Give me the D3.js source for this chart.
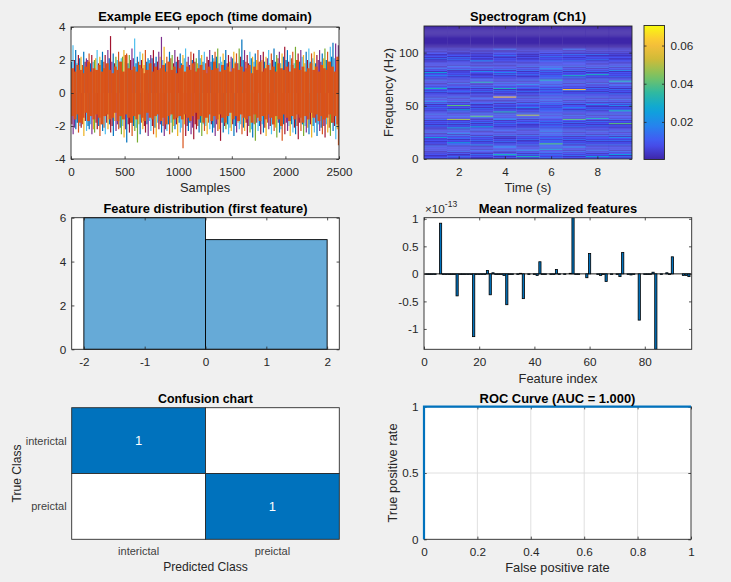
<!DOCTYPE html>
<html><head><meta charset="utf-8">
<script src="https://cdn.jsdelivr.net/npm/d3@7"></script>
<style>
body{margin:0;background:#f0f0f0;}
svg{display:block;}
</style></head><body>
<svg id="fig" width="731" height="582"></svg>
<script>
// ---------------- DATA ----------------
// EEG epoch (16 channels, 2500 samples) summarised per 25-sample bin (100 bins)
const eegBinSize = 25;
const eegHi = [2.9,2.6,2.3,2.2,2.5,2.1,2.4,2.3,2.0,2.6, 2.2,2.5,2.3,2.6,3.45,2.4,2.2,2.5,2.1,2.6,
  2.4,2.3,2.7,3.3,2.2,2.5,2.4,2.6,2.1,2.3, 2.6,2.2,2.5,3.4,2.8,2.2,2.5,2.3,2.6,2.2,
  2.4,2.3,2.7,2.2,2.5,2.4,2.1,2.6,2.3,2.5, 2.2,2.6,2.3,2.5,2.7,2.2,2.4,2.6,2.3,2.2,
  2.5,2.4,2.7,3.25,2.6,2.3,2.5,2.2,2.4,2.6, 2.3,2.5,2.2,2.6,2.4,2.7,2.3,2.5,2.4,2.8,
  2.6,2.3,2.5,2.8,2.4,2.6,2.3,2.5,2.7,2.4, 2.5,2.3,2.6,2.4,2.7,2.5,2.8,3.05,3.0,2.9];
const eegHiCh = "5062031645"+"2063604152"+"1435052103"+"6033210436"+"0253164025"+"6301452063"+"2140365201"+"3625104326"+"0514632051"+"2630415033";
const eegLo = [-2.5,-2.2,-2.4,-2.1,-2.6,-2.3,-2.2,-2.5,-2.4,-2.2, -2.6,-2.3,-2.5,-2.2,-2.4,-2.6,-2.3,-2.2,-2.5,-2.7,
  -3.0,-2.4,-2.6,-2.3,-3.0,-2.5,-2.2,-2.4,-2.6,-2.3, -2.5,-2.7,-2.2,-2.4,-2.6,-2.3,-2.5,-2.4,-2.2,-2.6,
  -2.4,-3.35,-2.6,-2.3,-2.5,-2.8,-2.2,-2.4,-2.6,-2.3, -2.5,-2.2,-2.4,-2.6,-2.3,-2.9,-2.4,-2.2,-2.5,-2.3,
  -2.6,-2.4,-2.2,-2.5,-2.3,-2.6,-2.4,-2.7,-2.9,-2.3, -2.5,-2.4,-2.6,-2.2,-2.5,-2.3,-2.7,-2.4,-2.9,-2.5,
  -2.3,-2.6,-2.4,-2.5,-2.8,-2.3,-2.6,-2.4,-2.5,-2.7, -2.4,-2.6,-2.3,-2.5,-2.7,-2.4,-2.6,-2.3,-2.8,-3.17];
const eegLoCh = "3016250346"+"1052603142"+"0614402635"+"1260351402"+"5160366041"+"2503160452"+"0351264045"+"6023514016"+"3250614302"+"5031624051";
const eegMidHi = [1.9,2.0,1.8,2.1,1.7,1.9,2.0,1.8,1.9,2.1, 1.8,2.0,1.9,1.7,2.1,1.9,1.8,2.0,1.9,2.2,
  1.9,1.8,2.0,2.1,1.8,1.9,2.0,1.7,1.9,2.0, 2.1,1.8,1.9,2.2,2.0,1.8,1.9,2.1,1.8,1.9,
  2.0,1.8,2.1,1.9,1.7,2.0,1.9,1.8,2.1,1.9, 1.8,2.0,1.9,2.1,2.2,1.8,1.9,2.0,1.8,1.9,
  2.1,1.9,1.8,2.2,2.0,1.9,1.8,2.1,1.9,2.0, 1.8,2.0,1.9,2.1,1.8,2.0,1.9,2.1,1.8,2.2,
  2.0,1.9,2.1,1.8,2.0,1.9,2.2,1.8,2.0,1.9, 2.1,1.8,2.0,1.9,2.1,2.0,1.9,2.2,2.1,2.0];
const eegMidHiCh = "0650163052"+"6015036504"+"5063016205"+"0362505160"+"6051306250"+"1605035062"+"0536016052"+"6203560150"+"0615305260"+"5036206051";
const eegMidLo = [-1.9,-2.1,-1.8,-2.0,-1.9,-1.7,-2.0,-1.9,-2.2,-1.8, -2.0,-1.9,-2.1,-1.8,-1.9,-2.0,-1.7,-1.9,-2.1,-2.0,
  -2.2,-1.9,-1.8,-2.0,-2.1,-1.9,-1.8,-2.0,-1.9,-1.7, -2.0,-2.1,-1.8,-1.9,-2.0,-2.2,-1.9,-1.8,-2.0,-1.9,
  -1.8,-2.1,-1.9,-2.0,-1.8,-2.1,-1.9,-2.0,-1.8,-1.9, -2.0,-1.8,-1.9,-2.1,-1.9,-2.2,-1.8,-2.0,-1.9,-2.1,
  -1.9,-2.0,-1.8,-1.9,-2.1,-1.8,-2.0,-2.2,-1.9,-1.8, -2.0,-1.9,-2.1,-1.8,-2.0,-1.9,-2.1,-1.8,-2.2,-1.9,
  -1.8,-2.0,-1.9,-2.1,-2.0,-1.8,-1.9,-2.0,-2.1,-1.9, -2.0,-1.8,-1.9,-2.1,-2.0,-1.9,-2.1,-1.8,-2.0,-2.2];
const eegMidLoCh = "6305160526"+"0516062305"+"3600521605"+"6053160526"+"0526036105"+"5160320605"+"6025063516"+"0561602350"+"3506160526"+"0650351062";
const eegOrangeHi = [1.5,1.3,1.7,1.4,1.2,1.6,1.9,1.3,1.5,1.4, 1.7,1.3,1.5,1.8,1.4,1.2,1.6,1.4,1.9,1.3,
  2.3,1.5,1.4,1.6,1.3,1.7,1.5,1.2,1.4,1.8, 1.3,1.6,1.4,1.5,1.7,1.3,1.9,1.4,1.6,1.2,
  1.5,1.7,1.3,1.6,1.4,1.8,1.3,1.5,1.7,1.4, 1.2,1.6,1.4,1.9,1.5,1.3,1.7,1.4,1.6,1.3,
  1.5,1.8,1.4,1.6,1.3,1.5,1.7,1.2,1.6,1.4, 1.9,1.3,1.5,1.7,1.4,1.6,1.3,1.8,1.5,1.4,
  1.6,1.3,1.7,1.5,2.0,1.4,1.6,1.3,1.5,1.8, 1.4,1.6,1.3,1.7,1.5,1.4,1.9,1.6,1.3,2.2];
const eegOrangeLo = [-1.4,-1.6,-1.3,-1.8,-1.5,-1.2,-1.7,-1.4,-1.6,-1.3, -1.5,-1.9,-1.4,-1.3,-1.6,-1.5,-1.2,-1.7,-1.4,-1.6,
  -1.3,-1.5,-1.8,-1.4,-1.6,-1.3,-1.5,-1.7,-1.2,-1.5, -1.6,-1.4,-1.3,-1.7,-1.5,-1.9,-1.4,-1.3,-1.6,-1.5,
  -1.4,-1.6,-1.3,-1.5,-1.7,-1.4,-1.2,-1.6,-1.4,-1.8, -1.5,-1.3,-1.7,-1.4,-1.6,-1.3,-1.5,-1.8,-1.4,-1.2,
  -1.6,-1.4,-1.7,-1.3,-1.5,-1.6,-1.4,-1.8,-1.3,-1.5, -1.7,-1.4,-1.6,-1.3,-1.5,-1.9,-1.4,-1.6,-2.0,-1.3,
  -1.5,-1.7,-1.4,-1.6,-1.3,-1.5,-1.8,-1.4,-1.6,-1.2, -1.5,-1.3,-1.7,-1.4,-1.6,-1.5,-1.3,-1.8,-1.4,-1.9];
const eegXTicks = [0,500,1000,1500,2000,2500];
const eegYTicks = [-4,-2,0,2,4];

// Spectrogram (Ch1): 9 time bins (1..9 s), 1-Hz rows from 0 Hz upward, coded as power levels
const specTimes = [1,2,3,4,5,6,7,8,9];
const specLevels = {"0":0.0004,"1":0.003,"2":0.006,"3":0.009,"4":0.013,"5":0.018,"6":0.024,"7":0.031,"8":0.04,"9":0.048,"a":0.055,"b":0.062};
const specCols = [
 "2321322132"+"3241231322"+"6232142312"+"2413231423"+"3242313242"+"3142532413"+"2314237423"+"2132413253"+"2613242132"+"3121413213"+"21211",
 "3242131423"+"2314362314"+"3241532416"+"2314231923"+"4231426132"+"8231423142"+"3124321432"+"2413223142"+"3221423413"+"2314241321"+"12111",
 "2132412341"+"3215231423"+"2413321432"+"6231423124"+"8324132413"+"2143213421"+"3214231423"+"1272341321"+"2351324213"+"1252131221"+"21121",
 "2314731242"+"3542314231"+"2142313423"+"1324231542"+"3241723142"+"23142132b3"+"2132417324"+"3241322314"+"2531423213"+"2132312423"+"21141",
 "3272413253"+"2314232142"+"3241323142"+"2213423142"+"3924132153"+"2341323141"+"2314213423"+"5231423124"+"2314231423"+"1232131212"+"21211",
 "3423424326"+"2434843424"+"3243425342"+"4324243234"+"3242343423"+"2434243242"+"3423424234"+"2434724342"+"3242453423"+"2342324231"+"32211",
 "2314232413"+"2531423142"+"3142314231"+"4231423823"+"2413241353"+"3142314232"+"42314b2323"+"3142314273"+"2314231423"+"3242313241"+"22141",
 "3262313242"+"2314231423"+"3241324132"+"2413241372"+"3142314231"+"2531423142"+"3241324132"+"2413241327"+"3142314231"+"2314232141"+"21211",
 "3241632413"+"2314231423"+"5142314231"+"2318231423"+"3142374231"+"5241324132"+"2413241324"+"3147231423"+"2315231423"+"1232132121"+"21211"
];
const specFreqMax = 125;
const specXTicks = [2,4,6,8];
const specYTicks = [0,50,100];
const cbarRange = [0.0003, 0.0705];
const cbarTicks = [0.02,0.04,0.06];

// Feature distribution (first feature) histogram
const histEdges = [-2,0,2];
const histCounts = [6,5];
const histXTicks = [-2,-1,0,1,2];
const histYTicks = [0,2,4,6];

// Mean normalized features (x 1e-13), features 1..96
const meanFeat = [-0.01,-0.01,-0.01,-0.01,0.0,0.92,-0.01,-0.01,-0.01,-0.01,-0.01,-0.40,
  -0.01,-0.01,-0.01,-0.01,-0.01,-1.14,-0.01,-0.01,-0.01,-0.01,0.06,-0.38,
  0.02,-0.01,-0.01,-0.01,-0.03,-0.56,-0.01,-0.01,0.0,-0.01,0.01,-0.45,
  0.0,-0.01,0.0,-0.01,-0.03,0.22,-0.01,-0.01,0.0,-0.01,-0.01,0.08,
  -0.01,0.0,-0.01,0.0,0.01,1.02,-0.01,-0.01,0.0,0.0,-0.07,0.37,
  0.0,0.0,-0.01,-0.03,-0.01,-0.14,0.0,-0.01,0.0,-0.01,-0.05,0.39,
  0.0,-0.01,-0.02,-0.01,0.0,-0.84,0.0,-0.01,-0.01,-0.01,0.03,-1.37,
  0.0,-0.01,0.0,0.02,-0.01,0.31,0.0,0.0,0.0,-0.03,-0.03,-0.05];
const meanXTicks = [0,20,40,60,80];
const meanYTicks = [-1,-0.5,0,0.5,1];

// Confusion chart
const cmClasses = ["interictal","preictal"];
const cmCounts = [[1,0],[0,1]];

// ROC curve
const rocFPR = [0,0,1];
const rocTPR = [0,1,1];
const rocXTicks = [0,0.2,0.4,0.6,0.8,1];
const rocYTicks = [0,0.5,1];

// ---------------- DRAWING ----------------
const FONT = '"Liberation Sans", Arial, Helvetica, sans-serif';
const TXT = '#262626';
const FT = 11.7, FL = 12.9;
const mColors = ['#0072BD','#D95319','#EDB120','#7E2F8E','#77AC30','#4DBEEE','#A2142F'];
const svg = d3.select('#fig').style('font-family', FONT);
svg.append('rect').attr('width',731).attr('height',582).attr('fill','#f0f0f0');
const fmt = d => String(d);

function styleAxis(sel, fs) {
  sel.select('.domain').remove();
  sel.selectAll('.tick line').attr('stroke', TXT).attr('stroke-width', 0.8);
  sel.selectAll('.tick text').attr('fill', TXT).style('font-size', fs + 'px').style('font-family', FONT);
}
function drawAxes(g, X, Y, o) {
  const [xa, xb] = X.range(), [yb, ya] = Y.range();
  const tl = o.tl != null ? o.tl : 2.7;
  if (o.xt) {
    g.append('g').attr('transform', `translate(0,${yb})`)
      .call(d3.axisBottom(X).tickValues(o.xt).tickSize(-tl).tickPadding(o.xpad || 8.5).tickFormat(o.xf || fmt)).call(styleAxis, FT);
    g.append('g').attr('transform', `translate(0,${ya})`)
      .call(d3.axisTop(X).tickValues(o.xt).tickSize(-tl).tickFormat('')).call(styleAxis, FT);
  }
  if (o.yt) {
    g.append('g').attr('transform', `translate(${xa},0)`)
      .call(d3.axisLeft(Y).tickValues(o.yt).tickSize(-tl).tickPadding(5.5).tickFormat(o.yf || fmt)).call(styleAxis, FT);
    if (!o.noRight) g.append('g').attr('transform', `translate(${xb},0)`)
      .call(d3.axisRight(Y).tickValues(o.yt).tickSize(-tl).tickFormat('')).call(styleAxis, FT);
  }
  g.append('rect').attr('x', xa).attr('y', ya).attr('width', xb - xa).attr('height', yb - ya)
    .attr('fill', 'none').attr('stroke', TXT).attr('stroke-width', 0.9);
}
function title(txt, x, y, fs) {
  svg.append('text').attr('x', x).attr('y', y).attr('text-anchor', 'middle').attr('font-weight', 'bold')
    .attr('fill', '#000').style('font-size', (fs || FL) + 'px').text(txt);
}
function xlabel(txt, x, y, fs) {
  svg.append('text').attr('x', x).attr('y', y).attr('text-anchor', 'middle').attr('fill', TXT)
    .style('font-size', (fs || FL) + 'px').text(txt);
}
function ylabel(txt, x, y, fs) {
  svg.append('text').attr('transform', `translate(${x},${y}) rotate(-90)`).attr('text-anchor', 'middle').attr('fill', TXT)
    .style('font-size', (fs || FL) + 'px').text(txt);
}
function plotBg(X, Y) {
  const [xa, xb] = X.range(), [yb, ya] = Y.range();
  svg.append('rect').attr('x', xa).attr('y', ya).attr('width', xb - xa).attr('height', yb - ya).attr('fill', '#fff');
}
function clipFor(id, X, Y) {
  const [xa, xb] = X.range(), [yb, ya] = Y.range();
  svg.append('clipPath').attr('id', id).append('rect').attr('x', xa).attr('y', ya).attr('width', xb - xa).attr('height', yb - ya);
  return 'url(#' + id + ')';
}

// ---- 1. EEG epoch ----
{
  const X = d3.scaleLinear().domain([0, 2500]).range([71, 339]);
  const Y = d3.scaleLinear().domain([-4, 4]).range([159, 27]);
  plotBg(X, Y);
  const g = svg.append('g').attr('clip-path', clipFor('c1', X, Y));
  const bins = d3.range(eegHi.length).map(i => ({
    s: i * eegBinSize, hi: eegHi[i], hc: +eegHiCh[i], lo: eegLo[i], lc: +eegLoCh[i],
    mh: eegMidHi[i], mhc: +eegMidHiCh[i], ml: eegMidLo[i], mlc: +eegMidLoCh[i],
    oh: eegOrangeHi[i], ol: eegOrangeLo[i]
  }));
  const bw = X(eegBinSize) - X(0);
  const seg = (sel, fx, y0, y1, col, w) => sel.append('g').selectAll('line').data(bins).join('line')
    .attr('x1', d => X(d.s) + fx * bw).attr('x2', d => X(d.s) + fx * bw)
    .attr('y1', d => Y(y0(d))).attr('y2', d => Y(y1(d)))
    .attr('stroke', d => mColors[col(d)]).attr('stroke-width', w);
  seg(g, 0.25, d => 0, d => d.mh, d => d.mhc, 1.3);
  seg(g, 0.75, d => 0, d => d.hi, d => d.hc, 1.2);
  seg(g, 0.35, d => 0, d => d.ml, d => d.mlc, 1.3);
  seg(g, 0.8, d => 0, d => d.lo, d => d.lc, 1.2);
  g.append('g').selectAll('rect').data(bins).join('rect')
    .attr('x', d => X(d.s)).attr('width', bw + 0.15)
    .attr('y', d => Y(d.oh)).attr('height', d => Y(d.ol) - Y(d.oh))
    .attr('fill', mColors[1]);
  drawAxes(svg.append('g'), X, Y, { xt: eegXTicks, yt: eegYTicks });
  title('Example EEG epoch (time domain)', 205, 20.5);
  xlabel('Samples', 205, 192);
}

// ---- 2. Spectrogram ----
{
  const X = d3.scaleLinear().domain([0.5, 9.5]).range([424, 632]);
  const Y = d3.scaleLinear().domain([0, specFreqMax]).range([159, 26]);
  const parula = d3.scaleLinear()
    .domain([0, 0.12, 0.25, 0.375, 0.5, 0.625, 0.75, 0.875, 1])
    .range(['#3e26a8', '#4852f4', '#2683ee', '#0ba6da', '#30b9a0', '#7dc35f', '#d0bb38', '#fcc03a', '#f9fb0e'])
    .interpolate(d3.interpolateRgb).clamp(true);
  const C = d3.scaleLinear().domain(cbarRange).range([0, 1]).clamp(true);
  const cells = [];
  specCols.forEach((col, ci) => {
    const full = col.padEnd(specFreqMax, '0');
    for (let f = 0; f < specFreqMax; f++) cells.push({ t: specTimes[ci], f, v: specLevels[full[f]] });
  });
  const g = svg.append('g').attr('clip-path', clipFor('c2', X, Y));
  g.selectAll('rect').data(cells).join('rect')
    .attr('x', d => X(d.t - 0.5)).attr('width', d => X(d.t + 0.5) - X(d.t - 0.5) + 0.2)
    .attr('y', d => Y(d.f + 1)).attr('height', d => Y(d.f) - Y(d.f + 1) + 0.25)
    .attr('fill', d => parula(C(d.v)));
  drawAxes(svg.append('g'), X, Y, { xt: specXTicks, yt: specYTicks });
  title('Spectrogram (Ch1)', 528, 20.5);
  xlabel('Time (s)', 528, 192);
  ylabel('Frequency (Hz)', 393, 92.5);
  // colorbar
  const CB = d3.scaleLinear().domain(cbarRange).range([159.5, 25.5]);
  const grad = svg.append('defs').append('linearGradient').attr('id', 'parula').attr('x1', 0).attr('y1', 1).attr('x2', 0).attr('y2', 0);
  d3.range(0, 1.0001, 0.05).forEach(t => grad.append('stop').attr('offset', t).attr('stop-color', parula(t)));
  svg.append('rect').attr('x', 644).attr('y', 25.5).attr('width', 20.5).attr('height', 134).attr('fill', 'url(#parula)');
  const cbx = d3.scaleLinear().domain([0, 1]).range([644, 664.5]);
  svg.append('g').attr('transform', 'translate(664.5,0)')
    .call(d3.axisRight(CB).tickValues(cbarTicks).tickSize(-2.5).tickPadding(6).tickFormat(fmt)).call(styleAxis, FT);
  svg.append('g').attr('transform', 'translate(644,0)')
    .call(d3.axisLeft(CB).tickValues(cbarTicks).tickSize(-2.5).tickFormat('')).call(styleAxis, FT);
  svg.append('rect').attr('x', cbx(0)).attr('y', 25.5).attr('width', cbx(1) - cbx(0)).attr('height', 134)
    .attr('fill', 'none').attr('stroke', TXT).attr('stroke-width', 0.9);
}

// ---- 3. Histogram ----
{
  const X = d3.scaleLinear().domain([-2.2, 2.2]).range([71.7, 339.3]);
  const Y = d3.scaleLinear().domain([0, 6]).range([349.3, 217.7]);
  plotBg(X, Y);
  const bars = histCounts.map((c, i) => ({ x0: histEdges[i], x1: histEdges[i + 1], c }));
  svg.append('g').selectAll('rect').data(bars).join('rect')
    .attr('x', d => X(d.x0)).attr('width', d => X(d.x1) - X(d.x0))
    .attr('y', d => Y(d.c)).attr('height', d => Y(0) - Y(d.c))
    .attr('fill', '#66aad7').attr('stroke', '#000').attr('stroke-width', 0.9);
  drawAxes(svg.append('g'), X, Y, { xt: histXTicks, yt: histYTicks });
  title('Feature distribution (first feature)', 205.5, 212.5);
}

// ---- 4. Mean normalized features ----
{
  const X = d3.scaleLinear().domain([0, meanFeat.length + 1]).range([424, 691.7]);
  const Y = d3.scaleLinear().domain([d3.min(meanFeat), d3.max(meanFeat)]).range([349.3, 217.7]);
  plotBg(X, Y);
  const g = svg.append('g').attr('clip-path', clipFor('c4', X, Y));
  const bw = X(0.8) - X(0);
  g.append('line').attr('x1', X(0)).attr('x2', X(meanFeat.length + 1)).attr('y1', Y(0)).attr('y2', Y(0))
    .attr('stroke', '#000').attr('stroke-width', 0.9);
  g.selectAll('rect').data(meanFeat.map((v, i) => ({ i: i + 1, v }))).join('rect')
    .attr('x', d => X(d.i) - bw / 2).attr('width', bw)
    .attr('y', d => Y(Math.max(0, d.v))).attr('height', d => Math.abs(Y(d.v) - Y(0)))
    .attr('fill', '#0072BD').attr('stroke', '#000').attr('stroke-width', 0.8);
  drawAxes(svg.append('g'), X, Y, { xt: meanXTicks, yt: meanYTicks });
  title('Mean normalized features', 558, 212.5);
  xlabel('Feature index', 558, 382.5);
  const ex = svg.append('text').attr('x', 425).attr('y', 212.5).attr('fill', TXT).style('font-size', '11.7px');
  ex.append('tspan').text('×10');
  ex.append('tspan').attr('dy', -6).style('font-size', '8.5px').text('-13');
}

// ---- 5. Confusion chart ----
{
  const X = d3.scaleBand().domain(cmClasses).range([71.7, 339.3]);
  const Y = d3.scaleBand().domain(cmClasses).range([407.7, 539.3]);
  const cells = [];
  cmClasses.forEach((t, i) => cmClasses.forEach((p, j) => cells.push({ t, p, v: cmCounts[i][j] })));
  const maxV = d3.max(cells, d => d.v);
  const col = d3.scaleLinear().domain([0, maxV]).range(['#ffffff', '#0072BD']);
  const g = svg.append('g');
  g.selectAll('rect').data(cells).join('rect')
    .attr('x', d => X(d.p)).attr('y', d => Y(d.t)).attr('width', X.bandwidth()).attr('height', Y.bandwidth())
    .attr('fill', d => col(d.v)).attr('stroke', '#2b2b2b').attr('stroke-width', 0.9);
  g.selectAll('text').data(cells.filter(d => d.v > 0)).join('text')
    .attr('x', d => X(d.p) + X.bandwidth() / 2).attr('y', d => Y(d.t) + Y.bandwidth() / 2 + 4.7)
    .attr('text-anchor', 'middle').attr('fill', '#fff').style('font-size', '13px').text(d => d.v);
  svg.append('g').selectAll('text').data(cmClasses).join('text')
    .attr('x', 66.7).attr('y', d => Y(d) + Y.bandwidth() / 2 + 4).attr('text-anchor', 'end')
    .attr('fill', '#404040').style('font-size', '11px').text(d => d);
  svg.append('g').selectAll('text').data(cmClasses).join('text')
    .attr('x', d => X(d) + X.bandwidth() / 2).attr('y', 554.5).attr('text-anchor', 'middle')
    .attr('fill', '#404040').style('font-size', '11px').text(d => d);
  title('Confusion chart', 205.5, 403, 12.4);
  xlabel('Predicted Class', 205.5, 571, 12.1);
  ylabel('True Class', 20.5, 473.5, 12.1);
}

// ---- 6. ROC curve ----
{
  const X = d3.scaleLinear().domain([0, 1]).range([424, 691]);
  const Y = d3.scaleLinear().domain([0, 1]).range([539.3, 406.7]);
  plotBg(X, Y);
  const g = svg.append('g');
  g.selectAll('.gx').data(rocXTicks.slice(1, -1)).join('line').attr('x1', d => X(d)).attr('x2', d => X(d))
    .attr('y1', Y(0)).attr('y2', Y(1)).attr('stroke', '#dcdcdc').attr('stroke-width', 0.9);
  g.selectAll('.gy').data(rocYTicks.slice(1, -1)).join('line').attr('y1', d => Y(d)).attr('y2', d => Y(d))
    .attr('x1', X(0)).attr('x2', X(1)).attr('stroke', '#dcdcdc').attr('stroke-width', 0.9);
  drawAxes(svg.append('g'), X, Y, { xt: rocXTicks, yt: rocYTicks });
  const line = d3.line().x((d, i) => X(rocFPR[i])).y((d, i) => Y(rocTPR[i]));
  svg.append('path').attr('d', line(rocFPR)).attr('fill', 'none').attr('stroke', '#0072BD').attr('stroke-width', 2.2);
  title('ROC Curve (AUC = 1.000)', 557.5, 402.5);
  xlabel('False positive rate', 557.5, 572);
  ylabel('True positive rate', 397, 473);
}
</script>
</body></html>
